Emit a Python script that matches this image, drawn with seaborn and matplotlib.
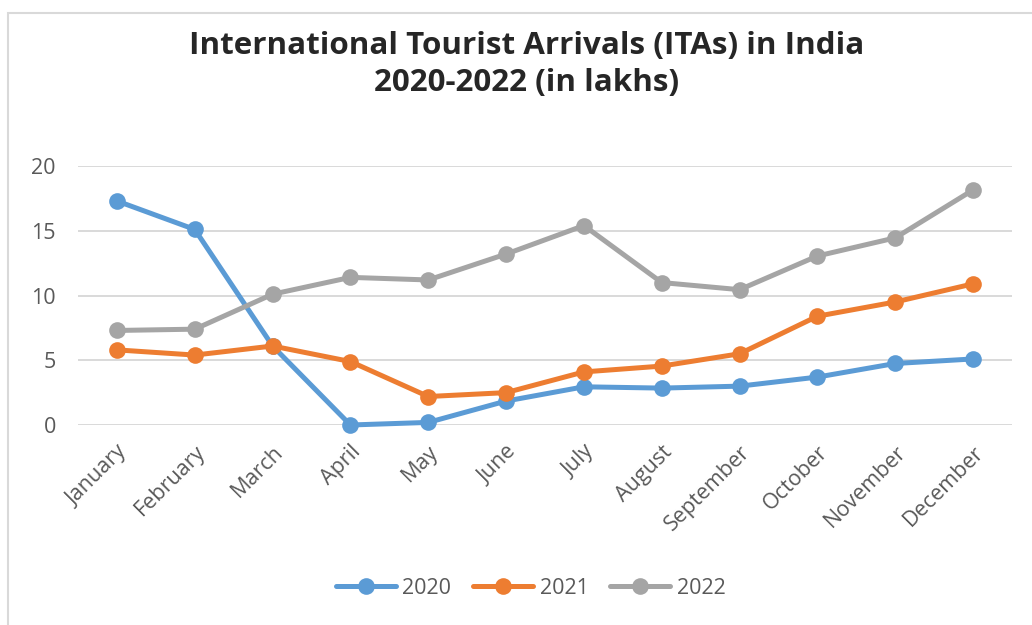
import pandas as pd
import matplotlib.pyplot as plt
import seaborn as sns
from matplotlib.patches import Rectangle

months = ['January', 'February', 'March', 'April', 'May', 'June', 'July',
          'August', 'September', 'October', 'November', 'December']
arrivals_2020 = [17.3, 15.1, 6.1, 0.0, 0.2, 1.85, 2.95, 2.85, 3.0, 3.7, 4.75, 5.1]
arrivals_2021 = [5.8, 5.4, 6.1, 4.9, 2.2, 2.5, 4.1, 4.55, 5.5, 8.4, 9.5, 10.9]
arrivals_2022 = [7.3, 7.4, 10.1, 11.4, 11.2, 13.2, 15.4, 11.0, 10.45, 13.05, 14.45, 18.15]
years = ['2020', '2021', '2022']
colors = ['#5B9BD5', '#ED7D31', '#A5A5A5']

# long-form table for seaborn
frames = []
for year, vals in zip(years, [arrivals_2020, arrivals_2021, arrivals_2022]):
    frames.append(pd.DataFrame({'pos': range(len(months)), 'Month': months,
                                'Arrivals': vals, 'Year': year}))
data = pd.concat(frames, ignore_index=True)

sns.set_theme(style='white')
plt.rcParams['font.family'] = ['Open Sans', 'DejaVu Sans']

fig = plt.figure(figsize=(10.32, 6.25), dpi=100)
ax = fig.add_axes([0.0756, 0.32, 0.905, 0.4144])

sns.lineplot(data=data, x='pos', y='Arrivals', hue='Year', palette=colors,
             marker='o', markersize=12, markeredgewidth=0, linewidth=3.6,
             sort=False, ax=ax, clip_on=False)

ax.set_xlim(-0.5, len(months) - 0.5)
ax.set_ylim(0, 20)
ax.set_yticks([0, 5, 10, 15, 20])
ax.set_xticks(range(len(months)))
ax.set_xticklabels(months, rotation=45, ha='right', rotation_mode='anchor')
ax.tick_params(axis='both', labelsize=15.5, colors='#595959', length=0)
ax.tick_params(axis='x', pad=12)
ax.tick_params(axis='y', pad=16)
ax.set_xlabel('')
ax.set_ylabel('')
ax.grid(axis='y', color='#D9D9D9', linewidth=1.4)
ax.set_axisbelow(True)
for s in ax.spines.values():
    s.set_visible(False)

fig.suptitle('International Tourist Arrivals (ITAs) in India\n2020-2022 (in lakhs)',
             fontsize=22.6, fontweight='bold', x=0.51, y=0.95, linespacing=1.3)

handles, labels = ax.get_legend_handles_labels()
ax.legend(handles, labels, loc='center', bbox_to_anchor=(0.514, 0.059),
          bbox_transform=fig.transFigure, ncol=3, frameon=False, fontsize=15.5,
          labelcolor='#595959', handlelength=2.8, columnspacing=1.0, handletextpad=0.3)

# chart area border like the source
fig.patches.append(Rectangle((0.008, -0.1), 1.2, 1.08, transform=fig.transFigure,
                             fill=False, edgecolor='#D9D9D9', linewidth=1.5))

fig.savefig('out.png', dpi=100)
